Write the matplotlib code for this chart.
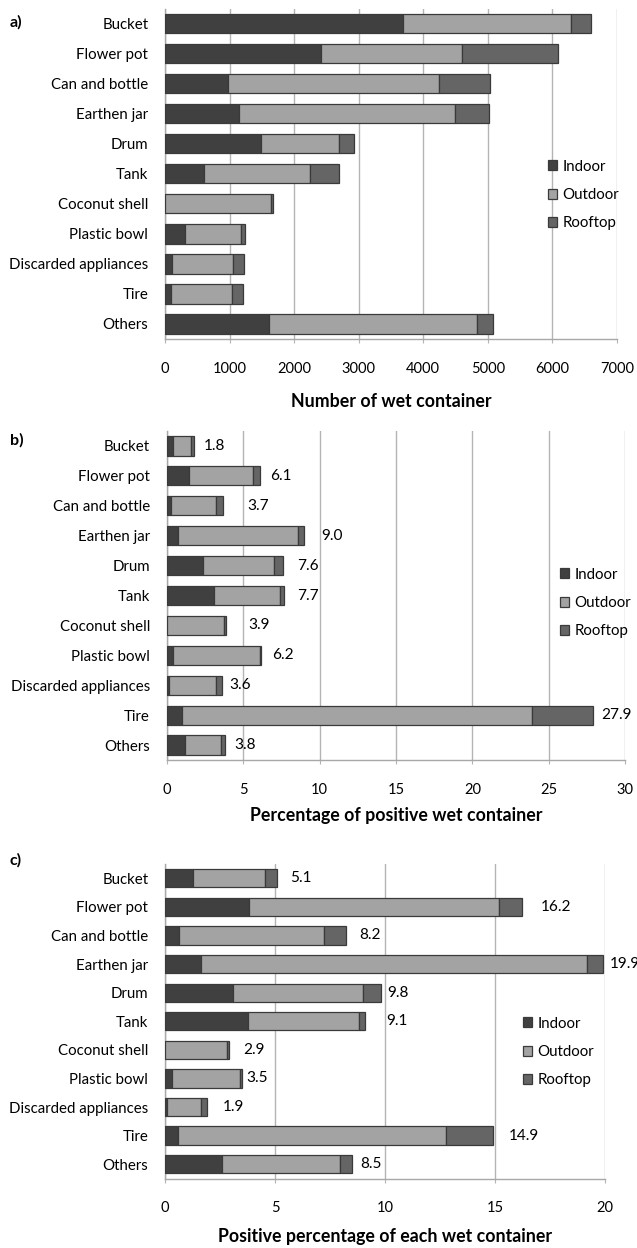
import matplotlib
matplotlib.use("Agg")
import matplotlib.pyplot as plt
from matplotlib.patches import Patch

plt.rcParams['font.family'] = ['Lato', 'DejaVu Sans']

categories = ["Bucket", "Flower pot", "Can and bottle", "Earthen jar", "Drum", "Tank",
              "Coconut shell", "Plastic bowl", "Discarded appliances", "Tire", "Others"]
series_names = ["Indoor", "Outdoor", "Rooftop"]

# a) number of wet containers
a_indoor = [3680, 2420, 970, 1150, 1480, 600, 0, 310, 110, 90, 1610]
a_outdoor = [2615, 2175, 3270, 3345, 1220, 1650, 1635, 870, 945, 945, 3215]
a_rooftop = [300, 1485, 790, 520, 225, 440, 30, 65, 170, 170, 250]

# b) percentage of positive wet containers
b_indoor = [0.40, 1.45, 0.30, 0.75, 2.40, 3.10, 0.00, 0.40, 0.15, 1.00, 1.20]
b_outdoor = [1.20, 4.20, 2.95, 7.85, 4.65, 4.30, 3.75, 5.70, 3.05, 22.90, 2.35]
b_rooftop = [0.20, 0.45, 0.45, 0.40, 0.55, 0.30, 0.15, 0.10, 0.40, 4.00, 0.25]
b_totals = [1.8, 6.1, 3.7, 9.0, 7.6, 7.7, 3.9, 6.2, 3.6, 27.9, 3.8]

# c) positive percentage of each wet container
c_indoor = [1.25, 3.80, 0.65, 1.65, 3.10, 3.75, 0.00, 0.30, 0.10, 0.60, 2.60]
c_outdoor = [3.30, 11.35, 6.55, 17.50, 5.90, 5.05, 2.80, 3.10, 1.55, 12.15, 5.35]
c_rooftop = [0.55, 1.05, 1.00, 0.75, 0.80, 0.30, 0.10, 0.10, 0.25, 2.15, 0.55]
c_totals = [5.1, 16.2, 8.2, 19.9, 9.8, 9.1, 2.9, 3.5, 1.9, 14.9, 8.5]

W, H = 637, 1248
fig = plt.figure(figsize=(W / 100, H / 100), dpi=100)

colors = ["#404040", "#a3a3a3", "#656565"]
edge = "#3a3a3a"
grid_c = "#b4b4b4"
FS = 10.8


def make_axes(left, right, top, bottom):
    return fig.add_axes([left / W, 1 - bottom / H, (right - left) / W, (bottom - top) / H])


def draw_panel(ax, indoor, outdoor, rooftop, xmax, step, xlabel, labelpad,
               tag, tag_y, legend_xy):
    y = list(range(len(categories)))
    left = [0] * len(categories)
    for vals, col, name in zip([indoor, outdoor, rooftop], colors, series_names):
        ax.barh(y, vals, left=left, height=0.64, color=col, edgecolor=edge,
                linewidth=0.9, label=name, zorder=3)
        left = [l + v for l, v in zip(left, vals)]
    ax.set_ylim(len(categories) - 0.5, -0.5)
    ax.set_xlim(0, xmax)
    ax.set_xticks(list(range(0, xmax + 1, step)))
    ax.set_yticks(y)
    ax.set_yticklabels(categories, fontsize=FS)
    ax.tick_params(axis='y', length=0, pad=12)
    ax.tick_params(axis='x', length=3, color=grid_c, labelsize=10.5, pad=13.5)
    ax.grid(axis='x', color=grid_c, linewidth=1.0, zorder=0)
    for s in ["top", "right"]:
        ax.spines[s].set_visible(False)
    for s in ["left", "bottom"]:
        ax.spines[s].set_color("#a8a8a8")
        ax.spines[s].set_linewidth(1.0)
    ax.set_xlabel(xlabel, fontsize=12.8, fontweight='bold', labelpad=labelpad)
    handles = [Patch(facecolor=c, edgecolor=edge, linewidth=0.9) for c in colors]
    ax.legend(handles, series_names, loc='center left',
              bbox_to_anchor=(legend_xy[0] / W, 1 - legend_xy[1] / H),
              bbox_transform=fig.transFigure, frameon=False, fontsize=FS,
              handlelength=0.65, handleheight=0.65, handletextpad=0.35,
              labelspacing=0.95, borderpad=0)
    fig.text(10 / W, 1 - tag_y / H, tag, fontsize=11.5, fontweight='bold', va='center')


def add_values(ax, totals, offsets):
    for i, (t, off) in enumerate(zip(totals, offsets)):
        ax.annotate(f"{t:.1f}", (t, i), xytext=(off, 0), textcoords='offset pixels',
                    ha='left', va='center', fontsize=FS + 0.3, zorder=4,
                    annotation_clip=False)


ax_a = make_axes(165, 617, 8.7, 339)
draw_panel(ax_a, a_indoor, a_outdoor, a_rooftop, 7000, 1000,
           "Number of wet container", 12, "a)", 22, (540, 195))

ax_b = make_axes(166.7, 625.3, 431, 760)
draw_panel(ax_b, b_indoor, b_outdoor, b_rooftop, 30, 5,
           "Percentage of positive wet container", 7, "b)", 440, (552, 603))
add_values(ax_b, b_totals, [10, 10, 24, 17, 14, 13, 22, 11, 8, 8, 10])

ax_c = make_axes(165, 605.3, 864, 1178.5)
draw_panel(ax_c, c_indoor, c_outdoor, c_rooftop, 20, 5,
           "Positive percentage of each wet container", 9, "c)", 860, (515, 1052))
add_values(ax_c, c_totals, [13, 19, 14, 7, 7, 21, 14, 4, 16, 16, 8])

fig.savefig("out.png", dpi=100)
